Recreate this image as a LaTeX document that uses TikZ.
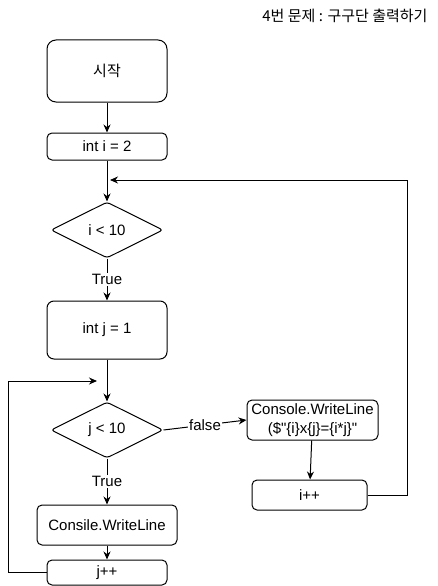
\documentclass[tikz,border=0pt]{standalone}
\usepackage{fontspec}
\setmainfont{Liberation Sans}[Ligatures=TeXOff]
\newfontfamily\krfont{Noto Sans CJK KR}
\usetikzlibrary{shapes.geometric,arrows.meta}
\begin{document}
\begin{tikzpicture}[x=1pt,y=-1pt,
  txt/.style={font=\fontsize{15}{19}\selectfont},
  box/.style={draw,rounded corners=5pt,line width=1pt,inner sep=0pt,align=center,txt},
  dec/.style={draw,diamond,aspect=2,minimum width=112pt,minimum height=56pt,inner sep=0pt,rounded corners=3pt,line width=1pt,txt},
  arr/.style={-{Stealth[length=8pt,width=7pt]},line width=1pt},
  lbl/.style={fill=white,inner sep=1pt,txt}]
\useasboundingbox (0,0) rectangle (438,586);
\node[anchor=east,font=\krfont\fontsize{15}{18}\selectfont] (title) at (431,16) {4번 문제 : 구구단 출력하기};
\node[box,rounded corners=9pt,minimum width=120pt,minimum height=62pt,font=\krfont\fontsize{15}{18}\selectfont] (start) at (107,71) {시작};
\node[box,minimum width=120pt,minimum height=27pt] (initi) at (107,146.5) {int i = 2};
\node[dec] (condi) at (107,230) {i < 10};
\node[box,rounded corners=7pt,minimum width=120pt,minimum height=58pt] (initj) at (107,330) {int j = 1};
\node[dec] (condj) at (107,430) {j < 10};
\node[box,minimum width=131pt,minimum height=40pt] (cw) at (312.5,420) {Console.WriteLine\\(\$"\{i\}x\{j\}=\{i*j\}"};
\node[box,minimum width=115pt,minimum height=30pt] (ipp) at (309.5,495) {i++};
\node[box,minimum width=140pt,minimum height=40pt] (cs) at (107,525) {Consile.WriteLine};
\node[box,minimum width=120pt,minimum height=25pt] (jpp) at (107,572.5) {j++};
\coordinate (rc) at (407,180);
\coordinate (mi) at (110,180);
\coordinate (lc) at (8,381);
\coordinate (mj) at (97,381);
\draw[arr] (start) -- (initi);
\draw[arr] (initi) -- (condi);
\draw[arr] (condi) -- node[lbl]{True} (initj);
\draw[arr] (initj) -- (condj);
\draw[arr] (condj.east) -- node[lbl,pos=0.5]{false} (cw.west);
\draw[arr] (condj) -- node[lbl]{True} (cs);
\draw[arr] (cs) -- (jpp);
\draw[arr] (cw) -- (ipp);
\draw[arr] (ipp.east) -| (rc) -- (mi);
\draw[arr] (jpp.west) -| (lc) -- (mj);
\end{tikzpicture}
\end{document}
